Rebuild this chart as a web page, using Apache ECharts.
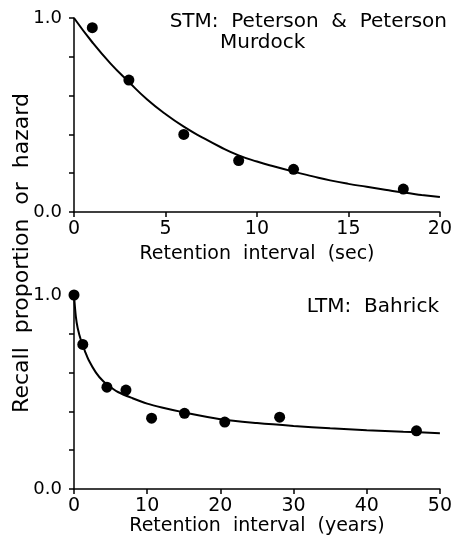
<!DOCTYPE html>
<html>
<head>
<meta charset="utf-8">
<script src="https://cdn.jsdelivr.net/npm/echarts@6/dist/echarts.min.js"></script>
<style>
  html, body { margin: 0; padding: 0; background: #fff; }
  #chart { width: 455px; height: 544px; }
</style>
</head>
<body>
<div id="chart"></div>
<script>
// STM panel (Peterson & Peterson, Murdock)
var stmSec = [1, 3, 6, 9, 12, 18];
var stmRecall = [0.95, 0.68, 0.40, 0.265, 0.22, 0.118];
var stmFitSec = [0, 1, 2, 3, 4, 5, 6, 7, 8, 9, 10, 11, 12, 13, 14, 15, 16, 17, 18, 19, 20];
var stmFitVal = [1.0, 0.875, 0.765, 0.67, 0.58, 0.505, 0.44, 0.385, 0.335, 0.292, 0.26, 0.233, 0.208, 0.185, 0.163, 0.145, 0.13, 0.115, 0.10, 0.088, 0.077];

// LTM panel (Bahrick)
var ltmYears = [0, 1.2, 4.5, 7.1, 10.6, 15.1, 20.6, 28.1, 46.8];
var ltmRecall = [1.0, 0.745, 0.525, 0.51, 0.365, 0.39, 0.345, 0.37, 0.30];
var ltmFitYears = [0, 0.25, 0.5, 1, 1.5, 2, 3, 4, 5, 6, 8, 10, 12, 15, 20, 25, 30, 35, 40, 45, 50];
var ltmFitVal = [1.0, 0.89, 0.83, 0.76, 0.71, 0.665, 0.60, 0.555, 0.525, 0.50, 0.468, 0.44, 0.42, 0.395, 0.36, 0.34, 0.325, 0.313, 0.303, 0.295, 0.288];

var font = "DejaVu Sans";

function pairs(xs, ys) {
  return xs.map(function (x, i) { return [x, ys[i]]; });
}

function xAxisOf(gridIndex, max, interval, name, gap) {
  return {
    type: "value",
    gridIndex: gridIndex,
    min: 0,
    max: max,
    interval: interval,
    name: name,
    nameLocation: "middle",
    nameGap: gap,
    nameTextStyle: { color: "#000", fontFamily: font, fontSize: 19 },
    axisLine: { show: true, lineStyle: { color: "#000", width: 1.5 } },
    axisTick: { show: true, length: 5, lineStyle: { color: "#000", width: 1.5 } },
    axisLabel: { color: "#000", fontFamily: font, fontSize: 19, margin: 8 },
    splitLine: { show: false }
  };
}

function yAxisOf(gridIndex) {
  return {
    type: "value",
    gridIndex: gridIndex,
    min: 0,
    max: 1,
    interval: 0.2,
    axisLine: { show: true, lineStyle: { color: "#000", width: 1.5 } },
    axisTick: { show: true, length: 5, lineStyle: { color: "#000", width: 1.5 } },
    axisLabel: {
      color: "#000", fontFamily: font, fontSize: 18, margin: 12,
      formatter: function (v) {
        return (v === 0 || v === 1) ? v.toFixed(1) : "";
      }
    },
    splitLine: { show: false }
  };
}

var chart = echarts.init(document.getElementById("chart"));
chart.setOption({
  backgroundColor: "#fff",
  animation: false,
  grid: [
    { left: 74, top: 18, width: 367, height: 194 },
    { left: 74, top: 295, width: 368, height: 194 }
  ],
  xAxis: [
    xAxisOf(0, 20, 5, "Retention  interval  (sec)", 33),
    xAxisOf(1, 50, 10, "Retention  interval  (years)", 23)
  ],
  yAxis: [yAxisOf(0), yAxisOf(1)],
  series: [
    {
      type: "line",
      xAxisIndex: 0, yAxisIndex: 0,
      data: pairs(stmFitSec, stmFitVal),
      smooth: true,
      showSymbol: false,
      lineStyle: { color: "#000", width: 2 }
    },
    {
      type: "scatter",
      xAxisIndex: 0, yAxisIndex: 0,
      data: pairs(stmSec, stmRecall),
      symbolSize: 11,
      itemStyle: { color: "#000", opacity: 1 }
    },
    {
      type: "line",
      xAxisIndex: 1, yAxisIndex: 1,
      data: pairs(ltmFitYears, ltmFitVal),
      smooth: 0.3,
      showSymbol: false,
      lineStyle: { color: "#000", width: 2 }
    },
    {
      type: "scatter",
      xAxisIndex: 1, yAxisIndex: 1,
      data: pairs(ltmYears, ltmRecall),
      symbolSize: 11,
      itemStyle: { color: "#000", opacity: 1 }
    }
  ],
  graphic: [
    {
      type: "text", right: 8, top: 12,
      style: { text: "STM:  Peterson  &  Peterson", fill: "#000", font: "20px " + font }
    },
    {
      type: "text", left: 220, top: 33,
      style: { text: "Murdock", fill: "#000", font: "20px " + font }
    },
    {
      type: "text", right: 16, top: 297,
      style: { text: "LTM:  Bahrick", fill: "#000", font: "20px " + font }
    },
    {
      type: "text", x: 22, y: 253, rotation: Math.PI / 2,
      style: {
        text: "Recall  proportion  or  hazard", fill: "#000",
        font: "22px " + font, align: "center", verticalAlign: "middle"
      }
    }
  ]
});
</script>
</body>
</html>
